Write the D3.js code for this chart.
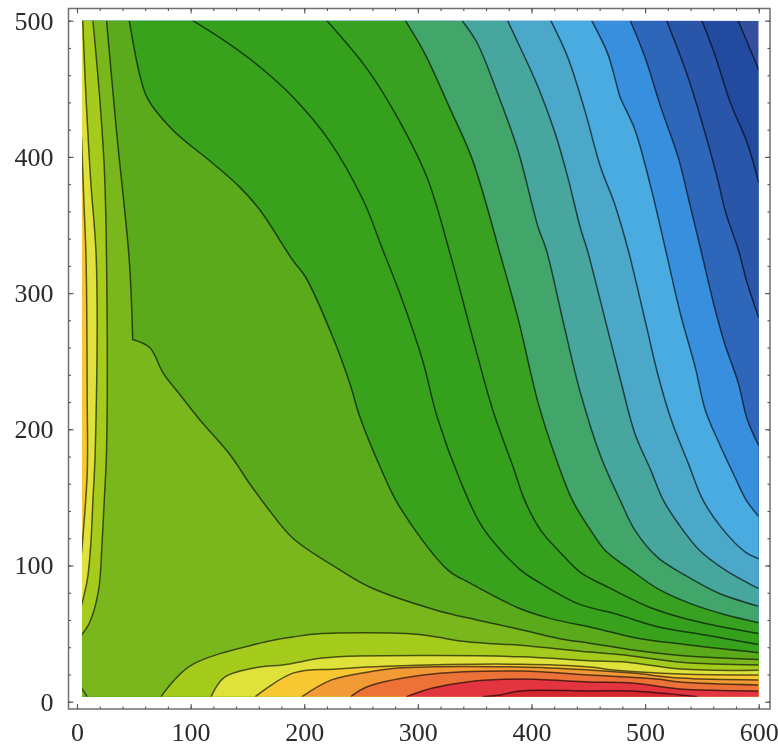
<!DOCTYPE html>
<html>
<head>
<meta charset="utf-8">
<script src="https://d3js.org/d3.v7.min.js"></script>
<style>
  body { margin: 0; background: #fff; }
  svg { display: block; }
  text { font-family: "Liberation Serif", serif; }
</style>
</head>
<body>
<div id="viz"></div>
<script>
// tick labels
var xTicks = [0, 100, 200, 300, 400, 500, 600];
var yTicks = [0, 100, 200, 300, 400, 500];
var xMinorTicks = d3.range(0, 601, 20);
var yMinorTicks = d3.range(0, 501, 20);

// extent of the filled area
var xLow = 4.4, xHigh = 600, yLow = 3.7, yHigh = 500;

// contour lines, [x, y], blue corner first
var line15 = [[582,500],[590,484],[600,464]];
var line14 = [[550,500],[561,476],[575,440],[590,410],[600,381]];
var line13 = [[519,500],[538,458],[553,417],[564,383],[571,359],[582,332],[590,307],[600,282]];
var line12 = [[487,500],[500,473],[514,436],[529,400],[538,370],[549,332],[561,290],[570,263],[582,234],[590,207],[600,188]];
var line11 = [[453,500],[467,476],[474,456],[478,444],[491,420],[505,378],[518,332],[531,285],[544,246],[553,214],[564,192],[579,165],[589,148],[600,136]];
var line10 = [[417,500],[432,473],[447,434],[461,392],[473,366],[485,332],[500,280],[511,241],[523,207],[538,175],[551,148],[567,128],[588,110],[600,105]];
var line9 = [[379,500],[388,484],[406,451],[421,417],[432,385],[443,348],[449,332],[465,280],[479,234],[491,197],[505,170],[516,148],[529,131],[548,111],[570,97],[600,83]];
var line8 = [[339,500],[352,484],[370,447],[388,405],[406,348],[413,332],[429,275],[443,227],[461,180],[478,148],[491,126],[511,106],[535,93],[564,80],[600,70]];
var line7 = [[289,500],[306,476],[328,436],[348,398],[374,324],[388,282],[406,219],[421,180],[436,148],[452,126],[465,111],[487,97],[511,83],[540,72],[570,64],[600,58]];
var line6 = [[220,500],[255,465],[282,429],[308,385],[330,324],[348,268],[366,214],[384,172],[394,148],[408,126],[426,109],[443,95],[470,83],[505,69],[540,60],[600,50]];
var line5 = [[102,500],[132,484],[161,466],[190,444],[222,412],[252,368],[269,332],[284,300],[304,251],[317,209],[337,163],[357,128],[390,97],[406,88],[441,72],[476,64],[511,55],[553,49],[600,42]];
var line4 = [[46,500],[55,461],[62,443],[84,420],[120,395],[143,378],[161,361],[190,324],[201,312],[225,268],[240,234],[249,209],[267,172],[284,143],[326,97],[346,87],[388,69],[417,61],[456,54],[491,47],[535,42],[600,36]];
// the doubled point keeps the sharp kink at the foot of the left side
var line3 = [[26,500],[35,417],[46,324],[49,266],[49,266],[64,260],[76,241],[91,225],[108,207],[135,181],[152,160],[167,143],[190,120],[231,97],[258,84],[317,67],[352,60],[390,53],[426,46],[451,43],[489,38],[531,34],[600,31]];

// these levels come back twice, up the left side and along the bottom
var line2Left = [[14,500],[20,443],[24,392],[26,324],[26,185],[24,148],[22,116],[19,82],[11,58],[4,49]];
var line2Bottom = [[74,3.7],[99,26],[161,43],[190,47.5],[216,50],[290,50],[317,47.5],[337,44.5],[366,42.5],[390,41.5],[451,36.5],[480,34.5],[531,29],[600,27]];
var line1Left = [[5,500],[8,442],[12,383],[17,324],[16,183],[14,148],[12,114],[9,89],[4,71]];
var line1Bottom = [[118,3.7],[130,18],[161,25.5],[181,27],[216,32],[249,33.5],[390,33],[451,30],[484,29],[531,24],[600,23]];
var line0Left = [[4,414],[6,368],[8,324],[9,221],[9,168],[5,119],[4,109]];
var line0Bottom = [[157,3.7],[190,21],[229,24],[273,26],[390,27.5],[451,25.5],[472,23.3],[531,20.3],[600,19.6]];

// hot end, bottom only
var orange1 = [[198,3.7],[224,16],[258,22],[282,24.7],[390,25.5],[451,23.3],[489,21],[531,17.4],[600,16]];
var orange2 = [[241,3.7],[255,10.8],[313,20.3],[390,22.5],[451,19.6],[510,16.7],[531,14.5],[600,12.3]];
var red1 = [[290,3.7],[313,10],[343,14.5],[390,16.7],[451,14.5],[489,13.7],[531,9.3],[600,7.9]];
var red2 = [[357,3.7],[372,4.9],[390,7.9],[451,7.9],[489,7.9],[531,5],[546,3.7]];

// little stub in the bottom left corner
var cornerLine = [[4,10],[9,3.7]];

var cornerColor = "#34509f";

var svg = d3.select("#viz")
    .append("svg")
    .attr("width", 778)
    .attr("height", 750);

// the reference is a soft scan, a small blur gets closer to it
svg.append("filter")
    .attr("id", "soft")
    .attr("x", 0).attr("y", 0).attr("width", "100%").attr("height", "100%")
    .append("feGaussianBlur")
    .attr("stdDeviation", 0.45);

var root = svg.append("g").attr("filter", "url(#soft)");

// white underlay so the blur has something to work with at the edges
root.append("rect").attr("width", 778).attr("height", 750).attr("fill", "#fff");

var x = d3.scaleLinear().domain([0, 600]).range([77, 758.7]);
var y = d3.scaleLinear().domain([0, 500]).range([701.7, 20.7]);

var frame = { left: 68.5, right: 770, top: 8.5, bottom: 709 };

var curved = d3.line()
    .curve(d3.curveCatmullRom.alpha(0.5))
    .x(function (d) { return x(d[0]); })
    .y(function (d) { return y(d[1]); });

var straight = d3.line()
    .x(function (d) { return x(d[0]); })
    .y(function (d) { return y(d[1]); });

// curve along the contour, straight along the plot edges
function regionPath(d) {
    var closing = "";
    if (d.close.length) {
        closing = "L" + straight(d.close).slice(1);
    }
    return curved(d.line) + closing + "Z";
}

// how each line closes into a region (painted from the cold end up)
var toLowerLeft = [[xHigh, yLow], [xLow, yLow], [xLow, yHigh]];
var toTopLeft = [[xLow, yHigh]];
var toBottomRight = [[xHigh, yLow]];
var regions = [
    { line: line15, close: toLowerLeft, fill: "#234c9f" },
    { line: line14, close: toLowerLeft, fill: "#2956a9" },
    { line: line13, close: toLowerLeft, fill: "#2f66b9" },
    { line: line12, close: toLowerLeft, fill: "#388fdd" },
    { line: line11, close: toLowerLeft, fill: "#49abe0" },
    { line: line10, close: toLowerLeft, fill: "#4ba8c9" },
    { line: line9, close: toLowerLeft, fill: "#47a69d" },
    { line: line8, close: toLowerLeft, fill: "#42a66b" },
    { line: line7, close: toLowerLeft, fill: "#38a121" },
    { line: line6, close: toLowerLeft, fill: "#36a01e" },
    { line: line5, close: toLowerLeft, fill: "#39a21d" },
    { line: line4, close: toLowerLeft, fill: "#5aaa1b" },
    { line: line3, close: toLowerLeft, fill: "#7ab71c" },
    { line: line2Left, close: toTopLeft, fill: "#a5cc1f" },
    { line: line2Bottom, close: toBottomRight, fill: "#a5cc1f" },
    { line: line1Left, close: toTopLeft, fill: "#dfe23a" },
    { line: line1Bottom, close: toBottomRight, fill: "#dfe23a" },
    { line: line0Left, close: [], fill: "#f8c832" },
    { line: line0Bottom, close: toBottomRight, fill: "#f8c832" },
    { line: orange1, close: toBottomRight, fill: "#f29a35" },
    { line: orange2, close: toBottomRight, fill: "#ec7238" },
    { line: red1, close: toBottomRight, fill: "#e2353f" },
    { line: red2, close: [], fill: "#d3262f" }
];

svg.append("clipPath")
    .attr("id", "plotArea")
    .append("rect")
    .attr("x", x(xLow))
    .attr("y", y(yHigh))
    .attr("width", x(xHigh) - x(xLow))
    .attr("height", y(yLow) - y(yHigh));

var plot = root.append("g").attr("clip-path", "url(#plotArea)");

// coldest band
plot.append("rect")
    .attr("x", x(xLow))
    .attr("y", y(yHigh))
    .attr("width", x(xHigh) - x(xLow))
    .attr("height", y(yLow) - y(yHigh))
    .attr("fill", cornerColor);

plot.selectAll(".band")
    .data(regions)
    .enter()
    .append("path")
    .attr("class", "band")
    .attr("fill", function (d) { return d.fill; })
    .attr("d", regionPath);

// contour lines on top
plot.selectAll(".contour")
    .data(regions.map(function (d) { return d.line; }).concat([cornerLine]))
    .enter()
    .append("path")
    .attr("class", "contour")
    .attr("fill", "none")
    .attr("stroke", "#000")
    .attr("stroke-opacity", 0.62)
    .attr("stroke-width", 1.5)
    .attr("d", curved);

// frame
root.append("rect")
    .attr("x", frame.left)
    .attr("y", frame.top)
    .attr("width", frame.right - frame.left)
    .attr("height", frame.bottom - frame.top)
    .attr("fill", "none")
    .attr("stroke", "#6f6f6f")
    .attr("stroke-width", 1.5);

// ticks point inwards from all four sides; labels only bottom and left
function addAxis(axis, tx, ty) {
    var g = root.append("g")
        .attr("transform", "translate(" + tx + "," + ty + ")")
        .call(axis);
    g.select(".domain").remove();
    g.selectAll("line").attr("stroke", "#555").attr("stroke-width", 1.1);
    g.selectAll("text")
        .attr("fill", "#2b2b2b")
        .style("font-family", '"Liberation Serif", serif')
        .style("font-size", "26px");
    return g;
}

var noLabel = function () { return ""; };

addAxis(d3.axisBottom(x).tickValues(xMinorTicks).tickSize(-2.5).tickFormat(noLabel), 0, frame.bottom);
addAxis(d3.axisTop(x).tickValues(xMinorTicks).tickSize(-2.5).tickFormat(noLabel), 0, frame.top);
addAxis(d3.axisLeft(y).tickValues(yMinorTicks).tickSize(-2.5).tickFormat(noLabel), frame.left, 0);
addAxis(d3.axisRight(y).tickValues(yMinorTicks).tickSize(-2.5).tickFormat(noLabel), frame.right, 0);

addAxis(d3.axisTop(x).tickValues(xTicks).tickSize(-5).tickFormat(noLabel), 0, frame.top);
addAxis(d3.axisRight(y).tickValues(yTicks).tickSize(-5).tickFormat(noLabel), frame.right, 0);
addAxis(d3.axisBottom(x).tickValues(xTicks).tickSize(-5).tickPadding(14).tickFormat(d3.format("d")), 0, frame.bottom);
addAxis(d3.axisLeft(y).tickValues(yTicks).tickSize(-5).tickPadding(15).tickFormat(d3.format("d")), frame.left, 0);
</script>
</body>
</html>
